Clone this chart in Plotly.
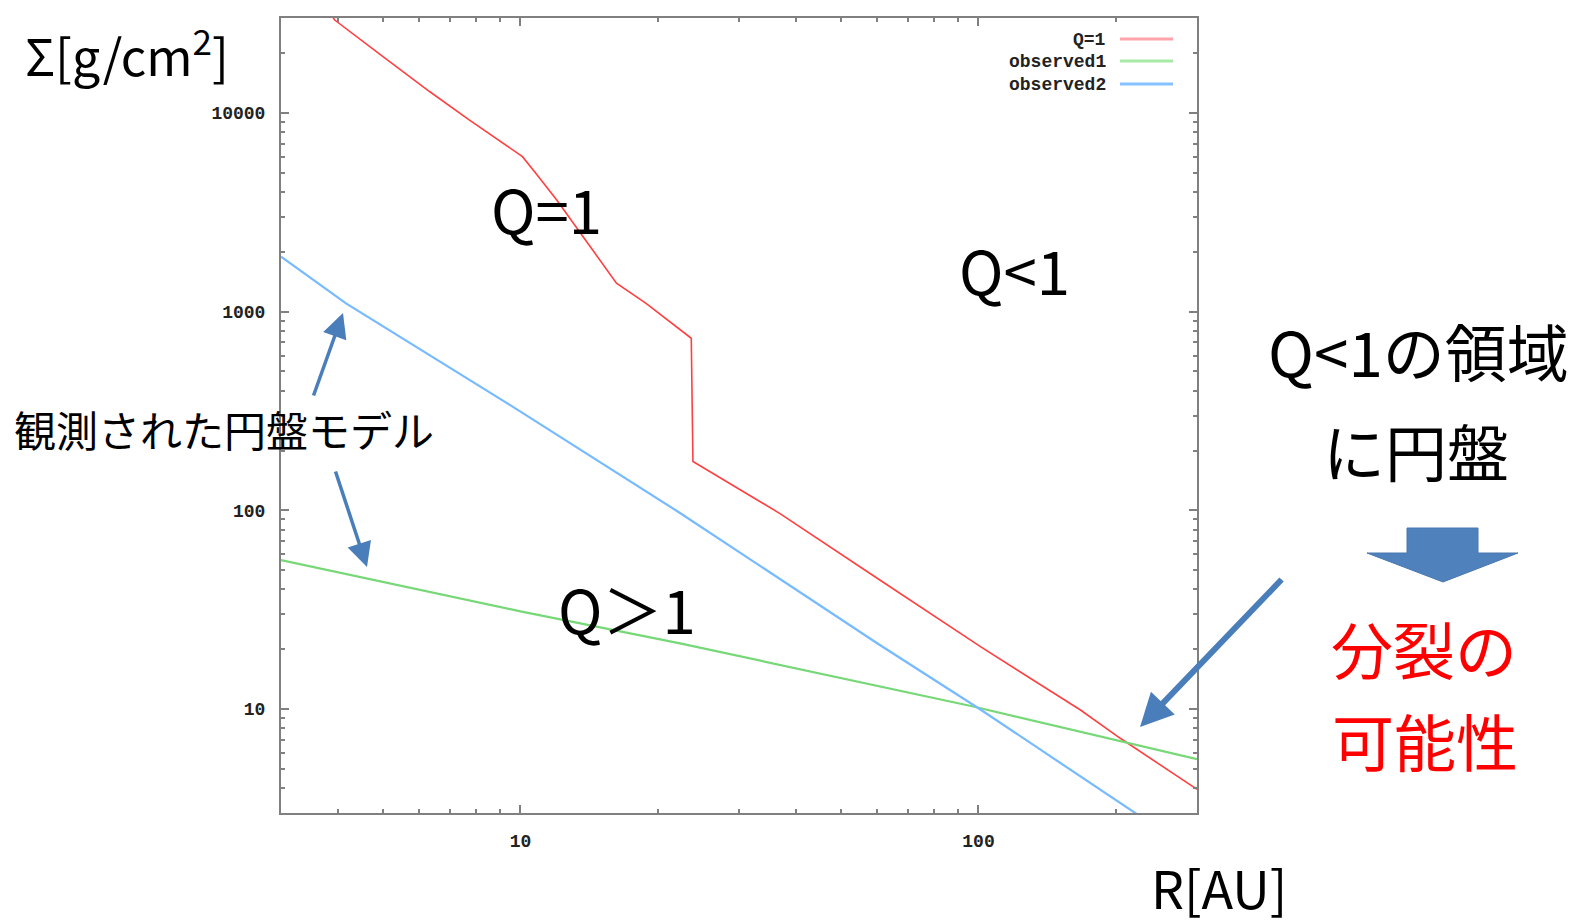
import math
import plotly.graph_objects as go

# ---- data ----
R_q1 = [3.88, 3.93, 5.01, 6.33, 7.74, 9.15, 10.1, 10.8, 12.0, 13.7, 15.1, 16.2, 18.8,
        23.6, 23.8, 28.6, 36.8, 60.9, 101, 167, 204, 294, 300]
S_q1 = [30600, 29300, 19200, 12800, 9200, 7030, 6020, 4960, 3640, 2380, 1750, 1390, 1100,
        734, 176, 137, 96.6, 44.6, 20.6, 9.89, 7.13, 4.07, 3.95]

R_obs1 = [3, 10, 22.3, 97.4, 300]
S_obs1 = [56.2, 31, 21.4, 10.3, 5.6]

R_obs2 = [3, 4.16, 10, 22.3, 60.9, 100, 230]
S_obs2 = [1890, 1100, 314, 97, 21, 10.1, 2.8]

series_names = ["Q=1", "observed1", "observed2"]
x_tick_vals = [10, 100]
x_tick_text = ["10", "100"]
y_tick_vals = [10, 100, 1000, 10000]
y_tick_text = ["10", "100", "1000", "10000"]

W, H = 1577, 923
L, Rm, T, B = 281, 380, 18, 110
PW, PH = W - L - Rm, H - T - B


def px(X):
    return (X - L) / PW


def py(Y):
    return (H - B - Y) / PH


line_colors = ["#ff4040", "#76d876", "#76baff"]
legend_colors = ["#ffa4aa", "#a6eaa6", "#86c2ff"]

fig = go.Figure()
for name, xs, ys, c, w in [(series_names[0], R_q1, S_q1, line_colors[0], 1.6),
                           (series_names[1], R_obs1, S_obs1, line_colors[1], 2.2),
                           (series_names[2], R_obs2, S_obs2, line_colors[2], 2.2)]:
    fig.add_trace(go.Scatter(x=xs, y=ys, mode="lines", name=name,
                             line=dict(color=c, width=w), showlegend=False))

tickfont = dict(family="Liberation Mono, DejaVu Sans Mono, monospace", size=18,
                color="#222222", weight="bold")
axis_common = dict(type="log", showline=True, linecolor="#808080", linewidth=2,
                   mirror="ticks", ticks="inside", ticklen=8, tickwidth=1.5,
                   tickcolor="#808080", showgrid=False, zeroline=False,
                   tickfont=tickfont, ticklabelstandoff=10,
                   minor=dict(ticks="inside", ticklen=4, dtick="D1",
                              tickcolor="#808080", tickwidth=1.5, showgrid=False))

fig.update_xaxes(range=[math.log10(3), math.log10(300)], tickmode="array",
                 tickvals=x_tick_vals, ticktext=x_tick_text, **axis_common)
fig.update_yaxes(range=[math.log10(3), math.log10(30000)], tickmode="array",
                 tickvals=y_tick_vals, ticktext=y_tick_text, **axis_common)

big = "Noto Sans CJK JP"
ann = []


def text(X, Y, s, size, color="#000000", xanchor="center"):
    ann.append(dict(x=px(X), y=py(Y), xref="paper", yref="paper", text=s,
                    showarrow=False, xanchor=xanchor, yanchor="middle",
                    font=dict(family=big, size=size, color=color)))


text(127, 52, "Σ[g/cm<sup>2</sup>]", 50)
text(1219, 886, "R[AU]", 52)
text(546, 208, "Q=1", 60)
text(1014, 268, "Q<1", 60)
text(627, 607, "Q＞1", 60)
text(224, 428, "観測された円盤モデル", 42)
text(1418, 350, "Q<1の領域", 62)
text(1416, 450, "に円盤", 62)
text(1424, 648, "分裂の", 62, color="#ff0000")
text(1425, 740, "可能性", 62, color="#ff0000")

# legend (drawn manually: text right, sample line at right)
leg_y = [40, 62, 85]
for name, y, c in zip(series_names, leg_y, legend_colors):
    ann.append(dict(x=px(1108), y=py(y), xref="paper", yref="paper", text=name,
                    showarrow=False, xanchor="right", yanchor="middle",
                    font=dict(family="Liberation Mono, DejaVu Sans Mono, monospace",
                              size=18, color="#222222", weight="bold")))

# arrows
arrow_col = "#4a7ebb"
for (tx, ty, sx, sy, wdt, sz) in [(343, 313, 313, 397, 3.5, 1.4),
                                  (367, 567, 335, 470, 3.5, 1.4),
                                  (1140, 727, 1283, 578, 6, 1.1)]:
    ann.append(dict(x=px(tx), y=py(ty), xref="paper", yref="paper", text="",
                    showarrow=True, ax=sx - tx, ay=sy - ty, arrowhead=2,
                    arrowsize=sz, arrowwidth=wdt, arrowcolor=arrow_col, standoff=0))

shapes = []
for y, c in zip(leg_y, legend_colors):
    shapes.append(dict(type="line", xref="paper", yref="paper",
                       x0=px(1120), x1=px(1173), y0=py(y - 1), y1=py(y - 1),
                       line=dict(color=c, width=3)))

# block arrow pointing down
pts = [(1407, 528), (1478, 528), (1478, 553), (1518, 553), (1443, 582),
       (1367, 553), (1407, 553)]
path = "M " + " L ".join(f"{px(a):.5f},{py(b):.5f}" for a, b in pts) + " Z"
shapes.append(dict(type="path", xref="paper", yref="paper", path=path,
                   fillcolor="#4f81bd", line=dict(color="#4a78b0", width=1)))

fig.update_layout(width=W, height=H, margin=dict(l=L, r=Rm, t=T, b=B, pad=0),
                  paper_bgcolor="white", plot_bgcolor="white", showlegend=False,
                  annotations=ann, shapes=shapes)

fig.write_html("out.html", config={"displayModeBar": False},
               post_script="document.body.style.margin='0';"
                           "document.body.style.overflow='hidden';")
